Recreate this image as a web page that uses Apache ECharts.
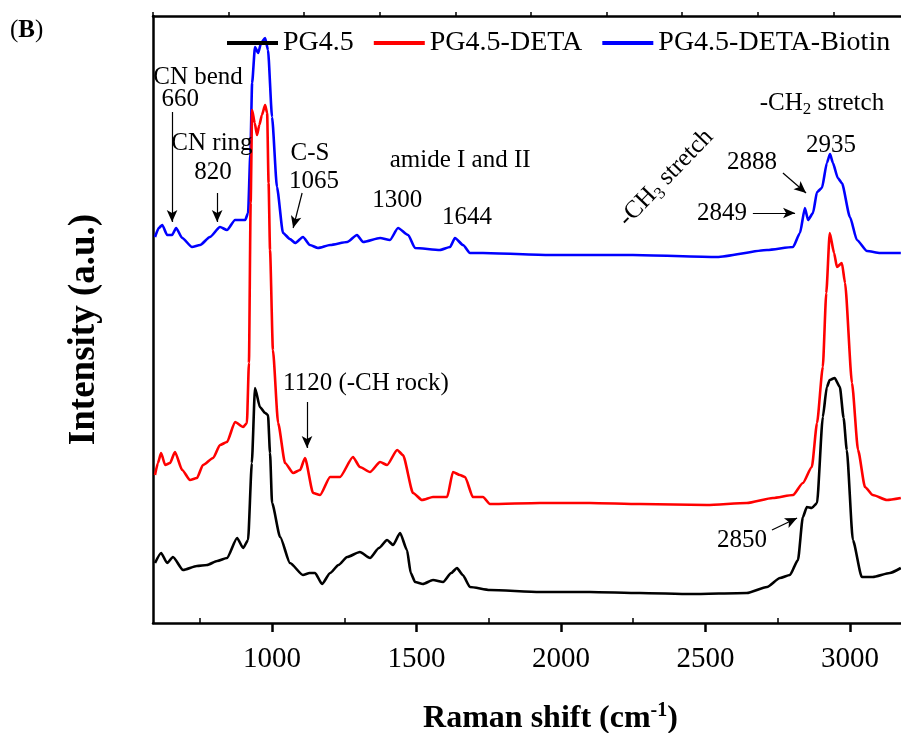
<!DOCTYPE html>
<html>
<head>
<meta charset="utf-8">
<script src="https://cdn.jsdelivr.net/npm/echarts@6/dist/echarts.min.js"></script>
<style>
html, body { margin: 0; padding: 0; background: #fff; }
#chart { width: 901px; height: 733px; }
</style>
</head>
<body>
<div id="chart"></div>
<script>
const serif = '"Liberation Serif", "Times New Roman", serif';

const seriesNames = ['PG4.5', 'PG4.5-DETA', 'PG4.5-DETA-Biotin'];
const seriesColors = ['#000000', '#ff0000', '#0000ff'];

// PG4.5 (black)
const shiftPG = [595, 616, 637, 657, 692, 740, 775, 810, 844, 879, 900, 917, 930, 941, 958, 976, 986, 993, 1000, 1028, 1062, 1107, 1130, 1149, 1173, 1201, 1230, 1260, 1304, 1339, 1370, 1398, 1419, 1443, 1467, 1480, 1495, 1522, 1557, 1592, 1620, 1640, 1660, 1685, 1754, 1927, 2100, 2273, 2450, 2643, 2713, 2758, 2792, 2820, 2837, 2851, 2868, 2886, 2906, 2920, 2930, 2947, 2965, 2978, 2989, 3010, 3041, 3079, 3138, 3176];
const intensityPG = [60, 70, 60, 66, 53, 57, 58, 62, 65, 85, 75, 83, 160, 235, 216, 210, 208, 170, 120, 86, 60, 48, 50, 50, 39, 50, 58, 66, 71, 65, 75, 83, 78, 90, 73, 50, 41, 39, 43, 41, 50, 55, 48, 36, 33, 31, 31, 30, 29, 30, 36, 45, 48, 63, 106, 116, 115, 120, 206, 236, 243, 245, 236, 205, 173, 83, 46, 46, 50, 55];

// PG4.5-DETA (red)
const shiftDETA = [595, 605, 616, 630, 647, 664, 689, 716, 740, 761, 796, 820, 844, 872, 900, 913, 920, 926, 931, 940, 948, 956, 965, 976, 983, 988, 993, 1003, 1021, 1045, 1073, 1097, 1114, 1142, 1166, 1201, 1235, 1280, 1304, 1339, 1374, 1398, 1433, 1453, 1488, 1519, 1557, 1606, 1626, 1650, 1668, 1695, 1730, 1754, 1927, 2100, 2273, 2505, 2643, 2733, 2803, 2837, 2868, 2886, 2906, 2918, 2930, 2945, 2955, 2972, 2983, 3007, 3028, 3052, 3079, 3128, 3176];
const intensityDETA = [148, 160, 170, 158, 160, 171, 153, 143, 145, 158, 165, 178, 181, 201, 196, 200, 260, 420, 513, 500, 488, 498, 508, 518, 510, 440, 373, 273, 200, 160, 150, 153, 165, 130, 128, 146, 146, 166, 156, 151, 161, 158, 173, 168, 130, 123, 126, 126, 151, 148, 146, 126, 126, 119, 120, 120, 119, 118, 120, 125, 128, 140, 156, 200, 256, 330, 390, 370, 356, 360, 340, 240, 173, 136, 128, 123, 125];

// PG4.5-DETA-Biotin (blue)
const shiftBiotin = [595, 608, 620, 637, 654, 668, 689, 723, 751, 785, 820, 844, 872, 907, 917, 925, 931, 941, 952, 962, 976, 986, 1000, 1017, 1038, 1062, 1080, 1107, 1131, 1159, 1201, 1260, 1294, 1315, 1374, 1408, 1436, 1471, 1495, 1581, 1616, 1633, 1661, 1685, 1730, 1962, 2249, 2540, 2713, 2803, 2827, 2844, 2855, 2872, 2886, 2903, 2920, 2931, 2941, 2958, 2972, 3000, 3024, 3059, 3104, 3176];
const intensityBiotin = [386, 395, 398, 388, 388, 395, 385, 376, 378, 386, 396, 393, 403, 403, 410, 470, 540, 576, 570, 580, 585, 573, 506, 436, 390, 384, 380, 386, 378, 375, 378, 381, 388, 381, 385, 383, 395, 388, 375, 373, 376, 385, 378, 370, 370, 368, 368, 366, 373, 376, 390, 415, 403, 410, 431, 435, 460, 469, 460, 445, 440, 406, 383, 372, 370, 370];

const majorTicks = [1000, 1500, 2000, 2500, 3000];
const minorTicks = [750, 1250, 1750, 2250, 2750];

// peak annotations
const noteTexts = ['CN bend', '660', 'CN ring', '820', 'C-S', '1065', 'amide I and II', '1300', '1644',
  '{t|-CH}{s|3}{t| stretch}', '{t|-CH}{s|2}{t| stretch}', '2935', '2888', '2849', '1120 (-CH rock)', '2850'];
const noteShift = [744, 682, 792, 796, 1131, 1145, 1651, 1433, 1675, 2363, 2903, 2934, 2661, 2557, 1325, 2626];
const noteIntensity = [546, 524, 480, 451, 470, 442, 463, 423, 406, 445, 520, 478, 461, 410, 240, 83];
const noteRotate = [0, 0, 0, 0, 0, 0, 0, 0, 0, 46, 0, 0, 0, 0, 0, 0];

// arrows: start and end points
const arrowFrom = [[654, 511], [810, 430], [1104, 430], [1121, 221], [2768, 450], [2664, 410], [2730, 93]];
const arrowTo = [[654, 401], [810, 401], [1073, 395], [1121, 175], [2848, 430], [2810, 410], [2817, 105]];

const zip = (xs, ys) => xs.map((x, i) => [x, ys[i]]);
const shifts = [shiftPG, shiftDETA, shiftBiotin];
const intensities = [intensityPG, intensityDETA, intensityBiotin];

const textRich = {
  t: { fontFamily: serif, fontSize: 25, color: '#000' },
  s: { fontFamily: serif, fontSize: 17, color: '#000', padding: [14, 0, 0, 0] }
};

let myChart = echarts.init(document.getElementById('chart'), null, { renderer: 'canvas' });

let series = seriesNames.map((name, i) => ({
  name: name,
  type: 'line',
  data: zip(shifts[i], intensities[i]),
  showSymbol: false,
  smooth: 0.2,
  smoothMonotone: 'x',
  z: 4 - i,
  lineStyle: { color: seriesColors[i], width: 2.6 },
  itemStyle: { color: seriesColors[i] },
  animation: false,
}));

series[0].markLine = {
  silent: true,
  animation: false,
  label: { show: false },
  lineStyle: { color: '#000', width: 1.2, type: 'solid' },
  emphasis: { disabled: true },
  data: arrowFrom.map((p, i) => [
    { coord: p, symbol: 'none' },
    { coord: arrowTo[i], symbol: 'arrow', symbolSize: [8, 12] },
  ]),
};

series[0].markPoint = {
  silent: true,
  animation: false,
  symbol: 'circle',
  symbolSize: 1,
  itemStyle: { color: 'rgba(0,0,0,0)' },
  data: noteTexts.map((txt, i) => ({
    coord: [noteShift[i], noteIntensity[i]],
    label: {
      show: true,
      position: 'inside',
      rotate: noteRotate[i],
      formatter: txt.indexOf('{') === 0 ? txt : '{t|' + txt + '}',
      rich: textRich,
    },
  })),
};

let option = {
  backgroundColor: '#fff',
  animation: false,
  grid: { left: 153, top: 16, right: -3, bottom: 110, outerBoundsMode: 'none' },
  legend: {
    data: seriesNames,
    left: 222,
    top: 24,
    icon: 'rect',
    itemWidth: 51,
    itemHeight: 4,
    itemGap: 20,
    textStyle: { fontFamily: serif, fontSize: 28, color: '#000' },
  },
  xAxis: [
    {
      type: 'value',
      position: 'bottom',
      min: 588,
      max: 3187,
      name: '{a|Raman shift (cm}{b|-1}{a|)}',
      nameLocation: 'middle',
      nameGap: 78,
      nameTextStyle: {
        padding: [0, 0, 0, 44],
        rich: {
          a: { fontFamily: serif, fontSize: 32, fontWeight: 'bold', color: '#000' },
          b: { fontFamily: serif, fontSize: 20, fontWeight: 'bold', color: '#000', padding: [0, 0, 16, 0] },
        },
      },
      axisLine: { show: true, lineStyle: { color: '#000', width: 2.5 } },
      axisTick: { show: true, inside: false, length: 9, customValues: majorTicks, lineStyle: { width: 2.5, color: '#000' } },
      axisLabel: {
        show: true,
        customValues: majorTicks,
        margin: 22,
        formatter: (v) => String(v),
        fontFamily: serif,
        fontSize: 29,
        color: '#000',
      },
      splitLine: { show: false },
    },
    {
      type: 'value',
      position: 'bottom',
      min: 588,
      max: 3187,
      axisLine: { show: false },
      axisTick: { show: true, inside: true, length: 5, customValues: minorTicks, lineStyle: { width: 1.5, color: '#000' } },
      axisLabel: { show: false, customValues: minorTicks },
      splitLine: { show: false },
    },
    {
      type: 'value',
      position: 'top',
      min: 0,
      max: 9.934,
      interval: 1,
      axisLine: { show: true, lineStyle: { color: '#000', width: 2.5 } },
      axisTick: { show: true, inside: false, length: 4, lineStyle: { width: 1.5, color: '#000' } },
      axisLabel: { show: false },
      splitLine: { show: false },
    },
  ],
  yAxis: {
    type: 'value',
    min: 0,
    max: 607,
    name: 'Intensity (a.u.)',
    nameLocation: 'middle',
    nameGap: 50,
    nameTextStyle: {
      fontFamily: serif,
      fontSize: 37,
      fontWeight: 'bold',
      color: '#000',
      padding: [0, 20, 0, 0],
    },
    axisLine: { show: true, lineStyle: { color: '#000', width: 2.5 } },
    axisTick: { show: false },
    axisLabel: { show: false },
    splitLine: { show: false },
  },
  graphic: [
    {
      type: 'text',
      left: 10,
      top: 18,
      style: {
        text: '{n|(}{b|B}{n|)}',
        rich: {
          n: { fontFamily: serif, fontSize: 25, color: '#000' },
          b: { fontFamily: serif, fontSize: 25, fontWeight: 'bold', color: '#000' },
        },
      },
    },
  ],
  series: series,
};

myChart.setOption(option);
window.addEventListener('resize', () => {
  myChart.resize();
});
</script>
</body>
</html>
